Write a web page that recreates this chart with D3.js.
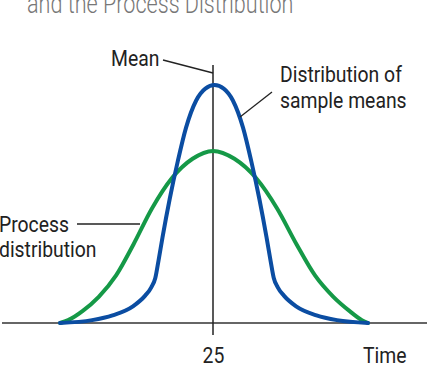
<!DOCTYPE html>
<html lang="en">
<head>
  <meta charset="UTF-8">
  <title>Distribution of sample means</title>
  <style>
    body { margin: 0; background: #fff; }
    text { font-family: "Liberation Sans Narrow", "Roboto", sans-serif; }
  </style>
</head>
<body>
  <script src="https://cdnjs.cloudflare.com/ajax/libs/d3/7.8.5/d3.min.js"></script>
  <script>
    var width = 429;
    var height = 391;

    // sample means distribution (blue)
    var meansTime = [10, 13.15, 15.15, 17.15, 18.35, 18.95, 19.35, 19.65, 20.05, 20.75, 21.55, 22.35, 23.35, 24.25, 25.15,
      26.05, 26.95, 27.95, 28.75, 29.55, 30.25, 30.65, 30.95, 31.35, 31.95, 33.15, 35.15, 37.15, 40.2];
    var meansValue = [0, 0.012, 0.032, 0.07, 0.115, 0.15, 0.19, 0.26, 0.36, 0.52, 0.68, 0.82, 0.935, 0.985, 1.0,
      0.985, 0.935, 0.82, 0.68, 0.52, 0.36, 0.26, 0.19, 0.15, 0.115, 0.07, 0.032, 0.012, 0];

    // process distribution (green)
    var processTime = [10, 10.8, 12.2, 13.8, 15.5, 17.2, 19.0, 21.0, 23.0, 25,
      27.1, 29.2, 31.3, 33.2, 35.0, 36.8, 38.4, 39.6, 40.2];
    var processValue = [0, 0.012, 0.05, 0.11, 0.2, 0.33, 0.48, 0.61, 0.69, 0.723,
      0.69, 0.61, 0.48, 0.33, 0.2, 0.11, 0.05, 0.012, 0];

    var meanValue = 25;
    var tickLabels = ["25"];

    var svg = d3.select("body").append("svg")
      .attr("width", width)
      .attr("height", height);

    var x = d3.scaleLinear().domain([10, 40]).range([60, 366]);
    var y = d3.scaleLinear().domain([0, 1]).range([323, 85]);

    // narrow text helper (no condensed font installed)
    function label(px, py, str, size, sx) {
      return svg.append("text")
        .attr("transform", "translate(" + px + "," + py + ") scale(" + sx + ",1)")
        .style("font-size", size + "px")
        .style("fill", "#222")
        .text(str);
    }

    // title (cut off at top, like the source)
    label(27, 13, "and the Process Distribution", 27, 0.8)
      .style("fill", "#777")
      .style("font-weight", 300);

    // baseline
    svg.append("line")
      .attr("x1", 2).attr("x2", 427)
      .attr("y1", y(0)).attr("y2", y(0))
      .style("stroke", "#333").style("stroke-width", 1.5);

    // mean line + tick below axis
    svg.append("line")
      .attr("x1", x(meanValue)).attr("x2", x(meanValue))
      .attr("y1", 65).attr("y2", y(0) + 12)
      .style("stroke", "#222").style("stroke-width", 1.5);

    label(x(meanValue) - 10.5, 363, tickLabels[0], 22, 0.88);
    label(363, 363, "Time", 22, 0.88);

    var line = d3.line()
      .x(function (d) { return x(d[0]); })
      .y(function (d) { return y(d[1]); })
      .curve(d3.curveMonotoneX);

    svg.append("path")
      .datum(d3.zip(processTime, processValue))
      .attr("d", line)
      .style("fill", "none")
      .style("stroke", "#159947")
      .style("stroke-width", 4)
      .style("stroke-linecap", "round");

    svg.append("path")
      .datum(d3.zip(meansTime, meansValue))
      .attr("d", line)
      .style("fill", "none")
      .style("stroke", "#0b4da2")
      .style("stroke-width", 4)
      .style("stroke-linecap", "round");

    // labels and leaders
    label(111, 66, "Mean", 22, 0.88);
    svg.append("line")
      .attr("x1", 163).attr("y1", 60).attr("x2", x(meanValue)).attr("y2", 73)
      .style("stroke", "#222").style("stroke-width", 1.3);

    label(280, 82, "Distribution of", 22, 0.88);
    label(280, 108, "sample means", 22, 0.88);
    svg.append("line")
      .attr("x1", 272).attr("y1", 92).attr("x2", 240).attr("y2", 117)
      .style("stroke", "#222").style("stroke-width", 1.3);

    label(-1, 232, "Process", 22, 0.88);
    label(-1, 257, "distribution", 22, 0.88);
    svg.append("line")
      .attr("x1", 77).attr("y1", 224).attr("x2", 140).attr("y2", 224)
      .style("stroke", "#222").style("stroke-width", 1.3);
  </script>
</body>
</html>
